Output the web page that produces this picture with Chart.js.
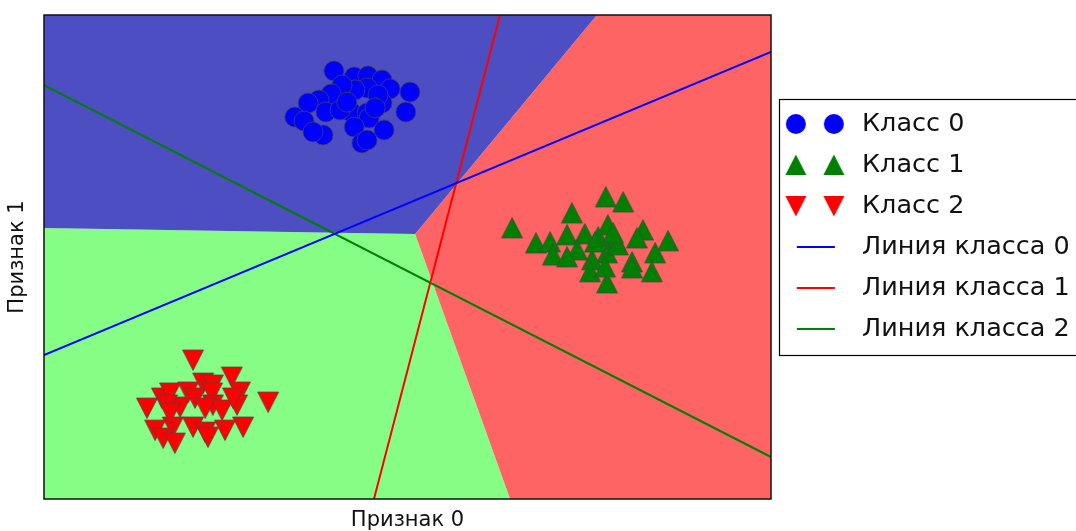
<!DOCTYPE html>
<html>
<head>
<meta charset="utf-8">
<script src="https://cdn.jsdelivr.net/npm/chart.js@4/dist/chart.umd.min.js"></script>
<style>
  html, body { margin: 0; padding: 0; background: #fff; overflow: hidden; }
  canvas { display: block; }
</style>
</head>
<body>
<canvas id="chartCanvas" width="1076" height="531"></canvas>
<script>
// Точки классов (признак 0, признак 1)
const class0X = [-2.82, -2.32, -1.98, -1.63, -1.43, -0.94, -1.04, -1.63, -2.00, -2.30, -2.62, -2.89, -3.19, -3.46, -3.79, -3.56, -3.02, -2.40, -2.00, -1.95, -2.32, -1.58, -3.09, -2.13, -2.00, -3.34, -2.67, -1.73, -2.5, -1.8];
const class0Y = [12.11, 11.80, 11.85, 11.64, 11.18, 11.02, 9.99, 10.45, 11.23, 11.13, 11.38, 10.92, 10.61, 10.45, 9.73, 9.52, 9.99, 9.99, 9.94, 9.68, 9.21, 9.06, 8.80, 8.39, 8.54, 8.96, 10.09, 10.87, 10.5, 10.2];

const class1X = [3.91, 4.34, 3.07, 1.59, 2.18, 2.53, 2.95, 3.39, 3.96, 3.72, 4.14, 4.83, 4.68, 5.45, 5.13, 4.56, 5.05, 4.56, 3.94, 3.20, 3.57, 3.52, 3.94, 3.89, 2.60, 2.95, 4.21, 3.64, 4.09];
const class1Y = [5.60, 5.34, 4.77, 4.00, 3.22, 3.27, 3.64, 3.69, 4.15, 3.53, 3.38, 3.89, 3.48, 3.33, 2.71, 2.24, 1.73, 1.93, 2.71, 2.86, 2.35, 1.73, 1.16, 1.98, 2.60, 2.50, 3.12, 3.27, 3.74];

const class2X = [-6.31, -5.35, -6.06, -5.82, -5.15, -4.45, -7.45, -7.08, -6.88, -6.63, -6.43, -6.26, -5.84, -5.82, -5.59, -5.22, -7.25, -6.81, -6.31, -6.01, -5.52, -5.07, -7.05, -6.76, -5.94, -6.01, -6.95, -5.32, -6.88];
const class2Y = [-2.82, -3.70, -4.01, -4.11, -4.47, -4.99, -5.30, -4.78, -4.52, -5.25, -4.47, -4.78, -4.52, -5.14, -5.40, -5.14, -6.44, -6.28, -6.28, -6.54, -6.44, -6.28, -6.85, -7.11, -6.80, -5.30, -5.14, -4.78, -5.56];

// Линии классов (концы отрезков)
const line0X = [-10, 8];
const line0Y = [-2.56, 13.09];
const line1X = [1.29, -1.83];
const line1Y = [15, -10];
const line2X = [-10, 8];
const line2Y = [11.38, -7.83];

// Области решений (вершины многоугольников)
const areaBlueX = [-10, 3.69, -0.81, -10];
const areaBlueY = [15, 15, 3.69, 4.0];
const areaRedX = [3.69, 8, 8, 1.54, -0.81];
const areaRedY = [15, 15, -10, -10, 3.69];
const areaGreenX = [-10, -0.81, 1.54, -10];
const areaGreenY = [4.0, 3.69, -10, -10];

const labels = ["Класс 0", "Класс 1", "Класс 2", "Линия класса 0", "Линия класса 1", "Линия класса 2"];

function toPoints(xs, ys) {
  return xs.map((x, i) => ({ x: x, y: ys[i] }));
}

const edgeColor = "rgba(70,70,70,0.75)";

// Треугольный маркер как картинка
function trianglePath(g, cx, cy, down) {
  g.beginPath();
  if (down) {
    g.moveTo(cx - 10.5, cy - 10);
    g.lineTo(cx + 10.5, cy - 10);
    g.lineTo(cx, cy + 10.5);
  } else {
    g.moveTo(cx, cy - 10.5);
    g.lineTo(cx + 10.5, cy + 10);
    g.lineTo(cx - 10.5, cy + 10);
  }
  g.closePath();
}

function makeTriangle(color, down) {
  const c = document.createElement("canvas");
  c.width = 24;
  c.height = 24;
  const g = c.getContext("2d");
  trianglePath(g, 12, 12, down);
  g.fillStyle = color;
  g.fill();
  g.strokeStyle = edgeColor;
  g.lineWidth = 1;
  g.stroke();
  return c;
}

// Значки легенды: два маркера или отрезок линии
function makeLegendIcon(kind, color) {
  const c = document.createElement("canvas");
  c.width = 80;
  c.height = 26;
  const g = c.getContext("2d");
  g.fillStyle = color;
  [18, 56].forEach(function (cx) {
    if (kind === "circle") {
      g.beginPath();
      g.arc(cx, 13, 10, 0, Math.PI * 2);
      g.fill();
    } else if (kind === "up" || kind === "down") {
      trianglePath(g, cx, 13, kind === "down");
      g.fill();
    }
  });
  if (kind === "line") {
    g.strokeStyle = color;
    g.lineWidth = 2;
    g.beginPath();
    g.moveTo(19, 13);
    g.lineTo(57, 13);
    g.stroke();
  }
  return c;
}

const legendIcons = [
  makeLegendIcon("circle", "#0000ff"),
  makeLegendIcon("up", "#008000"),
  makeLegendIcon("down", "#ff0000"),
  makeLegendIcon("line", "#0000ff"),
  makeLegendIcon("line", "#ff0000"),
  makeLegendIcon("line", "#008000")
];

function lineDataset(label, xs, ys, color) {
  return {
    label: label,
    data: toPoints(xs, ys),
    showLine: true,
    borderColor: color,
    backgroundColor: color,
    borderWidth: 2,
    pointRadius: 0,
    fill: false
  };
}

function areaDataset(xs, ys, color) {
  return {
    label: "",
    data: toPoints(xs, ys),
    showLine: true,
    borderWidth: 0,
    borderColor: color,
    backgroundColor: color,
    pointRadius: 0,
    fill: "shape"
  };
}

// Рамка графика и рамка легенды; легенда уходит за правый край
const framePlugin = {
  id: "frame",
  afterLayout(chart) {
    chart.legend.right = chart.width;
    chart.legend.width = chart.width - chart.legend.left;
  },
  afterDatasetsDraw(chart) {
    const a = chart.chartArea;
    const ctx = chart.ctx;
    ctx.save();
    ctx.strokeStyle = "#111";
    ctx.lineWidth = 1.5;
    ctx.strokeRect(a.left, a.top, a.right - a.left, a.bottom - a.top);
    ctx.restore();
  },
  afterDraw(chart) {
    const hb = chart.legend.legendHitBoxes;
    if (!hb || !hb.length) return;
    const last = hb[hb.length - 1];
    const top = Math.round(hb[0].top - 12);
    const bottom = Math.round(last.top + last.height + 13);
    const left = Math.round(hb[0].left - 7.5);
    const ctx = chart.ctx;
    ctx.save();
    ctx.strokeStyle = "#000";
    ctx.lineWidth = 1.2;
    ctx.strokeRect(left + 0.5, top + 0.5, 400, bottom - top);
    ctx.restore();
  }
};

const fontFamily = "'DejaVu Sans', sans-serif";

const ctx = document.getElementById("chartCanvas").getContext("2d");
new Chart(ctx, {
  type: "scatter",
  data: {
    datasets: [
      {
        label: labels[0],
        data: toPoints(class0X, class0Y),
        pointStyle: "circle",
        pointRadius: 10,
        backgroundColor: "#0000ff",
        borderColor: edgeColor,
        borderWidth: 1
      },
      {
        label: labels[1],
        data: toPoints(class1X, class1Y),
        pointStyle: makeTriangle("#008000", false),
        pointRadius: 10,
        backgroundColor: "#008000"
      },
      {
        label: labels[2],
        data: toPoints(class2X, class2Y),
        pointStyle: makeTriangle("#ff0000", true),
        pointRadius: 10,
        backgroundColor: "#ff0000"
      },
      lineDataset(labels[3], line0X, line0Y, "#0000ff"),
      lineDataset(labels[4], line1X, line1Y, "#ff0000"),
      lineDataset(labels[5], line2X, line2Y, "#008000"),
      areaDataset(areaBlueX, areaBlueY, "#4c4ec1"),
      areaDataset(areaRedX, areaRedY, "#ff6464"),
      areaDataset(areaGreenX, areaGreenY, "#86fe86")
    ]
  },
  options: {
    responsive: false,
    devicePixelRatio: 1,
    animation: false,
    events: [],
    layout: {
      padding: { left: 0, right: 48, top: 15, bottom: 0 }
    },
    scales: {
      x: {
        type: "linear",
        min: -10,
        max: 8,
        grid: { display: false, drawTicks: false },
        border: { display: false },
        ticks: { display: false },
        title: {
          display: true,
          text: "Признак 0",
          color: "#111",
          font: { family: fontFamily, size: 21, lineHeight: 1 },
          padding: { top: 11, bottom: 0 }
        }
      },
      y: {
        type: "linear",
        min: -10,
        max: 15,
        grid: { display: false, drawTicks: false },
        border: { display: false },
        ticks: { display: false },
        title: {
          display: true,
          text: "Признак 1",
          color: "#111",
          font: { family: fontFamily, size: 21, lineHeight: 1 },
          padding: { top: 7.5, bottom: 15.5 }
        }
      }
    },
    plugins: {
      tooltip: { enabled: false },
      legend: {
        position: "right",
        align: "start",
        title: {
          display: true,
          text: "",
          font: { size: 10 },
          padding: { top: 68.75, bottom: 0 }
        },
        labels: {
          usePointStyle: true,
          pointStyleWidth: 62.75,
          padding: 15.5,
          color: "#111",
          font: { family: fontFamily, size: 25.5 },
          generateLabels: function (chart) {
            const items = Chart.defaults.plugins.legend.labels.generateLabels(chart);
            return items
              .filter(function (item) { return item.datasetIndex < 6; })
              .map(function (item) {
                item.pointStyle = legendIcons[item.datasetIndex];
                return item;
              });
          }
        }
      }
    }
  },
  plugins: [framePlugin]
});
</script>
</body>
</html>
